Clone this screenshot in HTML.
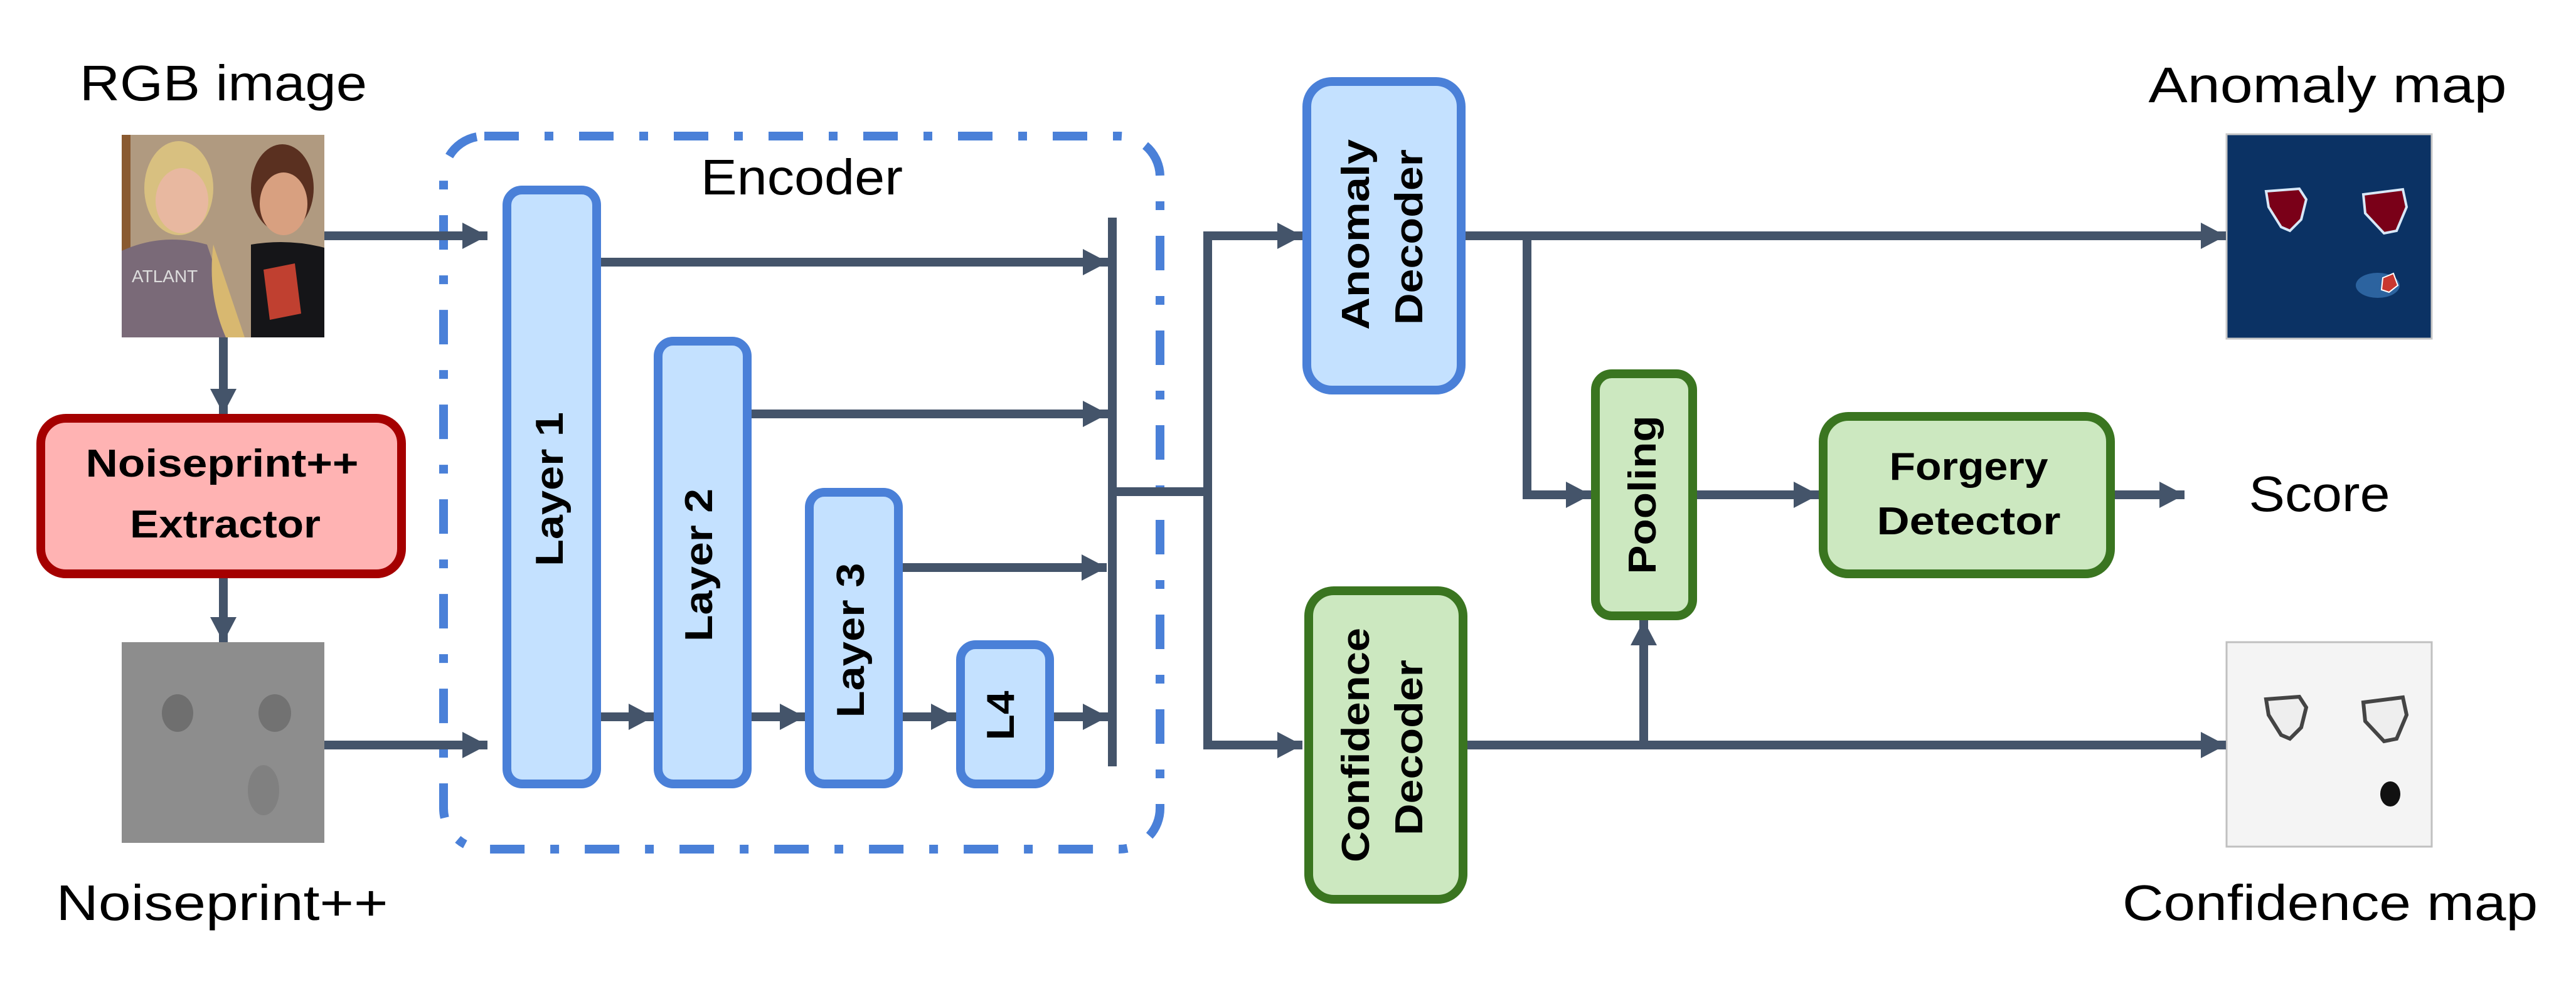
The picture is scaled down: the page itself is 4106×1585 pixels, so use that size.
<!DOCTYPE html>
<html><head><meta charset="utf-8"><style>
html,body{margin:0;padding:0;background:#fff}
svg{display:block}
text{font-family:"Liberation Sans",sans-serif}
</style></head><body>
<svg width="4106" height="1585" viewBox="0 0 4106 1585" xmlns="http://www.w3.org/2000/svg">
<defs>
<marker id="ah" markerWidth="40" markerHeight="42" refX="40" refY="21" orient="auto" markerUnits="userSpaceOnUse">
<path d="M0,0 L40,21 L0,42 Z" fill="#44546a"/></marker>
</defs>

<!-- top labels -->
<text x="356" y="160" font-size="80" text-anchor="middle" textLength="458" lengthAdjust="spacingAndGlyphs">RGB image</text>
<text x="354" y="1467" font-size="80" text-anchor="middle" textLength="529" lengthAdjust="spacingAndGlyphs">Noiseprint++</text>
<text x="3710" y="163" font-size="80" text-anchor="middle" textLength="571" lengthAdjust="spacingAndGlyphs">Anomaly map</text>
<text x="3714" y="1467" font-size="80" text-anchor="middle" textLength="662" lengthAdjust="spacingAndGlyphs">Confidence map</text>
<text x="3697" y="815" font-size="80" text-anchor="middle" textLength="225" lengthAdjust="spacingAndGlyphs">Score</text>
<text x="1278" y="310" font-size="80" text-anchor="middle" textLength="322" lengthAdjust="spacingAndGlyphs">Encoder</text>

<!-- RGB photo -->
<g>
<rect x="194" y="215" width="323" height="323" fill="#b09a80"/>
<rect x="194" y="215" width="14" height="200" fill="#8a5a30"/>
<ellipse cx="285" cy="300" rx="55" ry="75" fill="#d8c080"/>
<ellipse cx="290" cy="320" rx="42" ry="52" fill="#e8b8a0"/>
<ellipse cx="450" cy="300" rx="50" ry="70" fill="#5a3020"/>
<ellipse cx="452" cy="325" rx="38" ry="50" fill="#d8a080"/>
<path d="M194,400 Q260,370 330,390 L380,538 L194,538 Z" fill="#7a6a78"/>
<path d="M340,390 Q330,470 360,538 L390,538 Z" fill="#d8b870"/>
<path d="M400,390 Q460,380 517,395 L517,538 L400,538 Z" fill="#151518"/>
<path d="M420,430 L470,420 L480,500 L430,510 Z" fill="#c04030"/>
<text x="210" y="450" font-size="28" fill="#ddd">ATLANT</text>
</g>

<!-- noise image -->
<rect x="194" y="1024" width="323" height="320" fill="#8d8d8d"/>
<ellipse cx="283" cy="1137" rx="25" ry="30" fill="#6f6f6f"/>
<ellipse cx="438" cy="1137" rx="26" ry="30" fill="#727272"/>
<ellipse cx="420" cy="1260" rx="25" ry="40" fill="#808080"/>

<!-- Anomaly map -->
<rect x="3549" y="214" width="327" height="326" fill="#0b3264" stroke="#c8c8c8" stroke-width="3"/>
<path d="M3612,305 L3665,301 L3676,318 L3668,350 L3650,368 L3636,362 L3616,330 Z" fill="#7a0018" stroke="#d8e8f8" stroke-width="4"/>
<path d="M3767,310 L3830,302 L3836,330 L3820,368 L3800,372 L3770,340 Z" fill="#7a0018" stroke="#d8e8f8" stroke-width="4"/>
<ellipse cx="3790" cy="455" rx="35" ry="20" fill="#3a78b8" opacity="0.7"/>
<path d="M3798,443 L3815,436 L3822,455 L3808,466 L3796,462 Z" fill="#c83830" stroke="#fff" stroke-width="2"/>

<!-- Confidence map -->
<rect x="3549" y="1024" width="327" height="326" fill="#f4f4f4" stroke="#c0c0c0" stroke-width="3"/>
<path d="M3612,1115 L3665,1111 L3676,1128 L3668,1160 L3650,1178 L3636,1172 L3616,1140 Z" fill="#eeeeee" stroke="#444" stroke-width="6"/>
<path d="M3767,1120 L3830,1112 L3836,1140 L3820,1178 L3800,1182 L3770,1150 Z" fill="#eeeeee" stroke="#444" stroke-width="6"/>
<ellipse cx="3810" cy="1266" rx="16" ry="20" fill="#111"/>

<!-- Noiseprint extractor -->
<rect x="65" y="667" width="575" height="248" rx="40" fill="#ffb3b3" stroke="#a50000" stroke-width="14"/>
<text x="354" y="760" font-size="62" font-weight="bold" text-anchor="middle" textLength="435" lengthAdjust="spacingAndGlyphs">Noiseprint++</text>
<text x="359" y="857" font-size="62" font-weight="bold" text-anchor="middle" textLength="304" lengthAdjust="spacingAndGlyphs">Extractor</text>

<!-- Encoder dashed -->
<rect x="707" y="217" width="1142" height="1137" rx="65" fill="none" stroke="#4a80d8" stroke-width="14" stroke-dasharray="55 41 14 41"/>

<!-- blue boxes -->
<g fill="#c4e1ff" stroke="#4a80d8" stroke-width="14">
<rect x="808" y="303" width="143" height="947" rx="24"/>
<rect x="1049" y="544" width="142" height="706" rx="24"/>
<rect x="1290" y="785" width="142" height="465" rx="24"/>
<rect x="1531" y="1028" width="142" height="222" rx="24"/>
<rect x="2083" y="130" width="246" height="492" rx="40"/>
</g>
<!-- green boxes -->
<g fill="#cce8c0" stroke="#3a7520" stroke-width="14">
<rect x="2086" y="942" width="246" height="492" rx="40"/>
<rect x="2543" y="596" width="155" height="386" rx="26"/>
<rect x="2906" y="664" width="458" height="251" rx="40"/>
</g>
<g font-size="62" font-weight="bold" text-anchor="middle">
<text transform="translate(897,780) rotate(-90)" textLength="246" lengthAdjust="spacingAndGlyphs">Layer 1</text>
<text transform="translate(1135,901) rotate(-90)" textLength="244" lengthAdjust="spacingAndGlyphs">Layer 2</text>
<text transform="translate(1377,1021) rotate(-90)" textLength="247" lengthAdjust="spacingAndGlyphs">Layer 3</text>
<text transform="translate(1616,1141) rotate(-90)" textLength="79" lengthAdjust="spacingAndGlyphs">L4</text>
<text transform="translate(2182,374) rotate(-90)" textLength="304" lengthAdjust="spacingAndGlyphs">Anomaly</text>
<text transform="translate(2267,378) rotate(-90)" textLength="280" lengthAdjust="spacingAndGlyphs">Decoder</text>
<text transform="translate(2182,1188) rotate(-90)" textLength="374" lengthAdjust="spacingAndGlyphs">Confidence</text>
<text transform="translate(2267,1192) rotate(-90)" textLength="280" lengthAdjust="spacingAndGlyphs">Decoder</text>
<text transform="translate(2639,789) rotate(-90)" textLength="253" lengthAdjust="spacingAndGlyphs">Pooling</text>
<text x="3138" y="765" textLength="253" lengthAdjust="spacingAndGlyphs">Forgery</text>
<text x="3138" y="852" textLength="293" lengthAdjust="spacingAndGlyphs">Detector</text>
</g>

<!-- connectors -->
<g stroke="#44546a" stroke-width="14" fill="none">
<line x1="356" y1="538" x2="356" y2="660" marker-end="url(#ah)"/>
<line x1="356" y1="922" x2="356" y2="1024" marker-end="url(#ah)"/>
<line x1="517" y1="376" x2="777" y2="376" marker-end="url(#ah)"/>
<line x1="517" y1="1188" x2="777" y2="1188" marker-end="url(#ah)"/>
<line x1="958" y1="418" x2="1766" y2="418" marker-end="url(#ah)"/>
<line x1="1198" y1="660" x2="1766" y2="660" marker-end="url(#ah)"/>
<line x1="1439" y1="905" x2="1764" y2="905" marker-end="url(#ah)"/>
<line x1="1680" y1="1143" x2="1766" y2="1143" marker-end="url(#ah)"/>
<line x1="958" y1="1143" x2="1042" y2="1143" marker-end="url(#ah)"/>
<line x1="1198" y1="1143" x2="1283" y2="1143" marker-end="url(#ah)"/>
<line x1="1439" y1="1143" x2="1524" y2="1143" marker-end="url(#ah)"/>
<line x1="1773" y1="347" x2="1773" y2="1222"/>
<line x1="1773" y1="784" x2="1925" y2="784"/>
<path d="M2074,376 H1925 V1188 H2076" marker-end="url(#ah)"/>
<line x1="1925" y1="376" x2="2076" y2="376" marker-end="url(#ah)"/>
<line x1="2336" y1="376" x2="3548" y2="376" marker-end="url(#ah)"/>
<path d="M2434,376 V789 H2536" marker-end="url(#ah)"/>
<line x1="2705" y1="789" x2="2899" y2="789" marker-end="url(#ah)"/>
<line x1="3371" y1="789" x2="3482" y2="789" marker-end="url(#ah)"/>
<line x1="2339" y1="1188" x2="3548" y2="1188" marker-end="url(#ah)"/>
<line x1="2620" y1="1188" x2="2620" y2="989" marker-end="url(#ah)"/>
</g>
</svg>
</body></html>
